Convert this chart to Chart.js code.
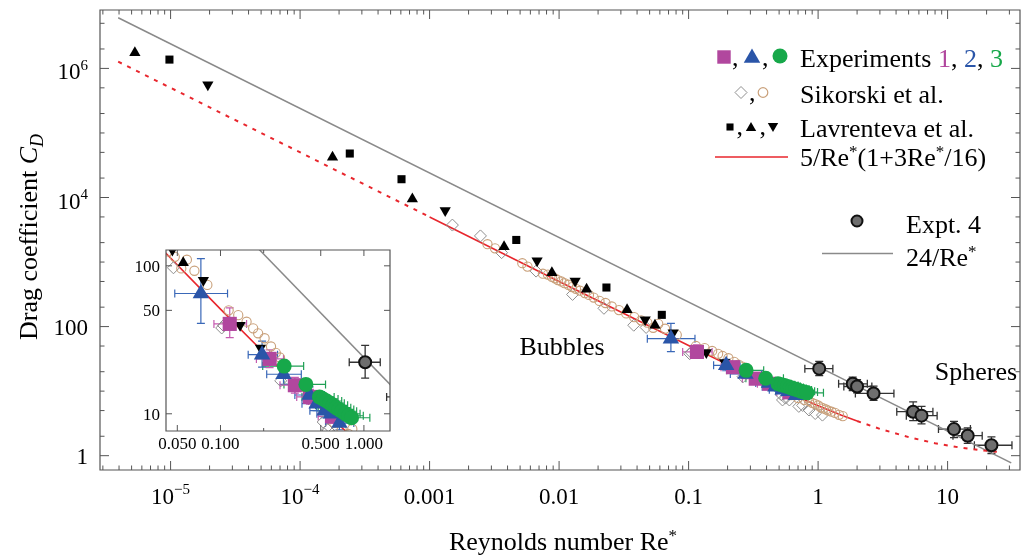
<!DOCTYPE html>
<html><head><meta charset="utf-8">
<script src="https://cdn.jsdelivr.net/npm/chart.js@4/dist/chart.umd.min.js"></script>
<style>
html,body{margin:0;padding:0;background:#fff;}
#wrap{position:relative;width:1030px;height:558px;overflow:hidden;}
#main{position:absolute;left:0;top:0;}
#inset{position:absolute;left:120px;top:240px;}
</style></head><body>
<div id="wrap"><canvas id="main" width="1030" height="558"></canvas><canvas id="inset" width="280" height="218"></canvas></div>
<script>
// ---------------- DATA ----------------
// theory curves
const line24Re = [3.94e-6, 31];
const line24Cd = [6.09e6, 0.774];
const redDash1Re = [3.94e-6, 0.001];
const redDash1Cd = [1.27e6, 5001];
const redSolidRe = [0.001, 0.01, 0.1, 0.2, 0.3, 0.5, 0.7, 1, 1.5, 2];
const redSolidCd = [5001, 500.9, 50.94, 25.94, 17.6, 10.94, 8.08, 5.94, 4.27, 3.44];
const redDash2Re = [2, 3, 5, 8, 12, 17, 24];
const redDash2Cd = [3.44, 2.60, 1.94, 1.56, 1.354, 1.232, 1.146];

// Sikorski et al.
const sikDiaRe = [0.0015, 0.00247, 0.0036, 0.00664, 0.0127, 0.0222, 0.0377, 0.047, 0.102, 0.105, 0.263, 0.52, 0.531, 0.56, 0.6, 0.71, 0.76, 0.85, 0.95, 1.08];
const sikDiaCd = [3740, 2540, 1400, 724, 315, 192, 105, 97, 38, 39.5, 16.7, 8.8, 7.3, 7.8, 7.3, 5.8, 6.0, 5.1, 4.5, 4.25];
const sikCirRe = [0.0028, 0.0032, 0.0052, 0.0057, 0.0075, 0.0082, 0.0088, 0.0093, 0.0098, 0.0104, 0.011, 0.0118, 0.0126, 0.0135, 0.0145, 0.0158, 0.017, 0.0185, 0.0205, 0.0228, 0.0255, 0.029, 0.033, 0.038, 0.043, 0.048, 0.0533, 0.0583, 0.0658, 0.081, 0.114, 0.133, 0.152, 0.169, 0.183, 0.203, 0.225, 0.243, 0.26, 0.62, 0.7, 0.78, 0.83, 0.85, 0.9, 0.95, 1.0, 1.05, 1.1, 1.15, 1.2, 1.27, 1.35, 1.45, 1.55];
const sikCirCd = [1890, 1630, 960, 850, 660, 640, 590, 560, 525, 500, 470, 445, 410, 385, 360, 330, 310, 282, 250, 232, 205, 180, 160, 140, 125, 115, 96, 110, 92.6, 74.3, 50, 46.4, 41.9, 37.8, 35, 32.4, 28.5, 25.8, 24, 8.7, 7.8, 7.3, 7.9, 7.0, 6.6, 6.3, 6.0, 5.6, 5.4, 5.2, 5.0, 4.8, 4.6, 4.3, 4.1];

// Lavrenteva et al.
const lavSqRe = [9.8e-6, 2.42e-4, 6.07e-4, 4.67e-3, 0.0232, 0.0621];
const lavSqCd = [1.37e6, 4.8e4, 1.92e4, 2200, 403, 152];
const lavUpRe = [5.3e-6, 1.78e-4, 7.36e-4, 3.76e-3, 8.8e-3, 0.0163, 0.0335, 0.055];
const lavUpCd = [1.75e6, 4.2e4, 9500, 1730, 683, 380, 182, 105];
const lavDnRe = [1.94e-5, 1.32e-3, 6.76e-3, 0.0133, 0.0462, 0.076, 0.137, 0.19];
const lavDnCd = [5.56e5, 6300, 1050, 509, 128, 80, 39.6, 27.8];

// Experiments 1 (squares)
const exp1Re = [0.116, 0.22, 0.33, 0.42, 0.6];
const exp1Cd = [40.5, 23.5, 15.6, 13.0, 9.6];
const exp1ReLo = [0.090, 0.178, 0.26, 0.34, 0.48];
const exp1ReHi = [0.152, 0.275, 0.42, 0.53, 0.75];
const exp1CdLo = [32.7, 20.5, 13.8, 11.6, 8.6];
const exp1CdHi = [52, 27, 17.6, 14.6, 10.7];
// Experiments 2 (triangles)
const exp2Re = [0.073, 0.195, 0.275, 0.418, 0.468, 0.533, 0.59, 0.675];
const exp2Cd = [65, 25.1, 18.5, 13.4, 11.7, 10.5, 10.0, 8.65];
const exp2ReLo = [0.048, 0.156, 0.21, 0.33, 0.37, 0.42, 0.47, 0.54];
const exp2ReHi = [0.112, 0.25, 0.366, 0.53, 0.59, 0.67, 0.74, 0.85];
const exp2CdLo = [40.8, 20.7, 15.8, 11.8, 10.5, 9.4, 9.0, 7.8];
const exp2CdHi = [112, 31, 21.5, 15.2, 13, 11.7, 11.1, 9.6];
// Experiments 3 (circles)
const exp3Re = [0.278, 0.394, 0.49, 0.52, 0.55, 0.58, 0.61, 0.64, 0.67, 0.70, 0.74, 0.78, 0.82];
const exp3Cd = [21.0, 15.8, 13.0, 12.6, 12.2, 11.8, 11.4, 11.0, 10.7, 10.4, 10.0, 9.7, 9.4];
const exp3ReLo = [0.197, 0.277, 0.37, 0.39, 0.41, 0.44, 0.46, 0.48, 0.50, 0.53, 0.56, 0.59, 0.62];
const exp3ReHi = [0.38, 0.54, 0.62, 0.66, 0.70, 0.73, 0.77, 0.81, 0.85, 0.89, 0.94, 0.99, 1.10];
// Expt. 4 (spheres)
const exp4Re = [1.02, 1.85, 2.0, 2.68, 5.42, 6.29, 11.2, 14.3, 21.8];
const exp4Cd = [22.3, 13.0, 11.8, 9.2, 4.8, 4.17, 2.58, 2.04, 1.45];
const exp4ReLo = [0.79, 1.44, 1.58, 1.94, 4.05, 4.8, 8.5, 11.0, 16.1];
const exp4ReHi = [1.30, 2.4, 2.6, 3.85, 7.7, 8.3, 15.0, 18.5, 31.4];
const exp4CdLo = [17.4, 10.2, 9.4, 7.2, 3.5, 3.1, 1.9, 1.55, 1.08];
const exp4CdHi = [29, 16.5, 15, 12, 6.8, 5.8, 3.4, 2.7, 1.95];

// tick labels
const xTickVals = [1e-5, 1e-4, 0.001, 0.01, 0.1, 1, 10];
const xTickText = ['10^\u22125', '10^\u22124', '0.001', '0.01', '0.1', '1', '10'];
const yTickVals = [1, 100, 1e4, 1e6];
const yTickText = ['1', '100', '10^4', '10^6'];
const inXTickVals = [0.05, 0.1, 0.5, 1];
const inXTickText = ['0.050', '0.100', '0.500', '1.000'];
const inYTickVals = [10, 50, 100];
const inYTickText = ['10', '50', '100'];

// ---------------- STYLE / HELPERS ----------------
const FONT = '"Liberation Serif", "DejaVu Serif", serif';
const C_MAG = '#b1479e', C_BLUE = '#2a55a8', C_GREEN = '#17a84a', C_TAN = '#c9a07a', C_DIA = '#8e8e8e', C_RED = '#e8262d', C_GRAY = '#8a8a8a';
const fnt = (s, it) => `${it ? 'italic ' : ''}${s}px ${FONT}`;

function segSize(s, size) { return (s.sup || s.sub) ? Math.round(size * (s.scale || 0.64)) : size; }
function richWidth(ctx, segs, size) {
  let w = 0;
  for (const s of segs) { ctx.font = fnt(segSize(s, size), s.it); w += ctx.measureText(s.t).width; }
  return w;
}
function drawRich(ctx, x, y, segs, size, align) {
  const w = richWidth(ctx, segs, size);
  let cx = align === 'center' ? x - w / 2 : align === 'right' ? x - w : x;
  ctx.textAlign = 'left'; ctx.textBaseline = 'alphabetic';
  for (const s of segs) {
    ctx.font = fnt(segSize(s, size), s.it);
    ctx.fillStyle = s.c || '#000';
    const dy = s.sup ? -size * (s.raise || 0.42) : s.sub ? size * 0.22 : 0;
    ctx.fillText(s.t, cx, y + dy);
    cx += ctx.measureText(s.t).width;
  }
  return w;
}
function parseLbl(str) {
  const p = str.split('^');
  return p.length > 1 ? [{ t: p[0] }, { t: p[1], sup: true }] : [{ t: p[0] }];
}
const P = (re, cd) => re.map((r, i) => ({ x: r, y: cd[i] }));

function minorDecades(lo, hi, mult) {
  const out = [];
  for (let k = lo; k <= hi; k++) for (const m of mult) out.push(m * Math.pow(10, k));
  return out;
}

// ---------------- PLUGINS ----------------
const framePlugin = {
  id: 'frame',
  afterDatasetsDraw(chart, args, o) {
    const { ctx, chartArea: a } = chart; const xs = chart.scales.x, ys = chart.scales.y;
    ctx.save();
    ctx.strokeStyle = o.color; ctx.lineWidth = o.lw;
    ctx.beginPath(); ctx.rect(a.left, a.top, a.right - a.left, a.bottom - a.top); ctx.stroke();
    ctx.lineWidth = o.tickLw;
    ctx.beginPath();
    const seg = (x1, y1, x2, y2) => { ctx.moveTo(x1, y1); ctx.lineTo(x2, y2); };
    for (const [vals, len] of [[o.xMajor, o.major], [o.xMinor, o.minor]]) for (const v of vals) {
      const p = xs.getPixelForValue(v); if (p < a.left + 1 || p > a.right - 1) continue;
      seg(p, a.bottom, p, a.bottom - len); seg(p, a.top, p, a.top + len);
    }
    for (const [vals, len] of [[o.yMajor, o.major], [o.yMinor, o.minor]]) for (const v of vals) {
      const p = ys.getPixelForValue(v); if (p < a.top + 1 || p > a.bottom - 1) continue;
      seg(a.left, p, a.left + len, p); seg(a.right, p, a.right - len, p);
    }
    ctx.stroke();
    o.xLabels.forEach((t, i) => drawRich(ctx, xs.getPixelForValue(o.xVals[i]), o.xLabelY, parseLbl(t), o.fontSize, 'center'));
    o.yLabels.forEach((t, i) => {
      const segs = parseLbl(t);
      drawRich(ctx, o.yLabelX, ys.getPixelForValue(o.yVals[i]) + o.yDy + (segs.length > 1 ? o.supDy : 0), segs, o.fontSize, 'right');
    });
    ctx.restore();
  }
};

const errPlugin = {
  id: 'errbars',
  beforeDatasetsDraw(chart) {
    const { ctx, chartArea: a } = chart; const xs = chart.scales.x, ys = chart.scales.y;
    ctx.save(); ctx.beginPath(); ctx.rect(a.left, a.top, a.right - a.left, a.bottom - a.top); ctx.clip();
    chart.data.datasets.forEach(ds => {
      const e = ds.err; if (!e) return;
      ctx.strokeStyle = e.color; ctx.lineWidth = e.lw;
      const cap = e.cap;
      ds.data.forEach((pt, i) => {
        const px = xs.getPixelForValue(pt.x), py = ys.getPixelForValue(pt.y);
        ctx.beginPath();
        if (e.xlo && e.xlo[i] != null) {
          const p1 = xs.getPixelForValue(e.xlo[i]), p2 = xs.getPixelForValue(e.xhi[i]);
          ctx.moveTo(p1, py); ctx.lineTo(p2, py);
          ctx.moveTo(p1, py - cap); ctx.lineTo(p1, py + cap);
          ctx.moveTo(p2, py - cap); ctx.lineTo(p2, py + cap);
        }
        if (e.ylo && e.ylo[i] != null) {
          const q1 = ys.getPixelForValue(e.ylo[i]), q2 = ys.getPixelForValue(e.yhi[i]);
          ctx.moveTo(px, q1); ctx.lineTo(px, q2);
          ctx.moveTo(px - cap, q1); ctx.lineTo(px + cap, q1);
          ctx.moveTo(px - cap, q2); ctx.lineTo(px + cap, q2);
        }
        ctx.stroke();
      });
    });
    ctx.restore();
  }
};

const whiteBg = {
  id: 'whiteBg',
  beforeDraw(chart) { const c = chart.ctx; c.save(); c.fillStyle = '#fff'; c.fillRect(0, 0, chart.width, chart.height); c.restore(); }
};

function mark(ctx, style, r, rot, x, y, fill, stroke, bw) {
  ctx.save();
  ctx.fillStyle = fill; ctx.strokeStyle = stroke; ctx.lineWidth = bw;
  Chart.helpers.drawPoint(ctx, { pointStyle: style, radius: r, rotation: rot, borderWidth: bw }, x, y);
  ctx.restore();
}

const annoPlugin = {
  id: 'anno',
  afterDraw(chart) {
    const ctx = chart.ctx; const F = 26;
    ctx.save();
    // legend row 1
    mark(ctx, 'rect', 9.5, 0, 724, 57, C_MAG, C_MAG, 0);
    drawRich(ctx, 732, 66, [{ t: ',' }], F, 'left');
    mark(ctx, 'triangle', 9.5, 0, 752, 58, C_BLUE, C_BLUE, 0);
    drawRich(ctx, 762, 66, [{ t: ',' }], F, 'left');
    mark(ctx, 'circle', 7.5, 0, 780, 56, C_GREEN, C_GREEN, 0);
    drawRich(ctx, 800, 66.5, [{ t: 'Experiments ' }, { t: '1', c: C_MAG }, { t: ', ' }, { t: '2', c: C_BLUE }, { t: ', ' }, { t: '3', c: C_GREEN }], F, 'left');
    // row 2
    mark(ctx, 'rectRot', 6, 0, 741, 92.5, 'rgba(0,0,0,0)', C_DIA, 1);
    drawRich(ctx, 749, 101, [{ t: ',' }], F, 'left');
    mark(ctx, 'circle', 4.8, 0, 763, 92.5, 'rgba(0,0,0,0)', C_TAN, 1.2);
    drawRich(ctx, 800, 103, [{ t: 'Sikorski et al.' }], F, 'left');
    // row 3
    mark(ctx, 'rect', 5, 0, 730, 127, '#000', '#000', 0);
    drawRich(ctx, 736.5, 135, [{ t: ',' }], F, 'left');
    mark(ctx, 'triangle', 6, 0, 751, 128, '#000', '#000', 0);
    drawRich(ctx, 759.5, 135, [{ t: ',' }], F, 'left');
    mark(ctx, 'triangle', 6, 180, 773, 126, '#000', '#000', 0);
    drawRich(ctx, 800, 136.5, [{ t: 'Lavrenteva et al.' }], F, 'left');
    // row 4
    ctx.strokeStyle = C_RED; ctx.lineWidth = 1.6;
    ctx.beginPath(); ctx.moveTo(715, 157); ctx.lineTo(788, 157); ctx.stroke();
    drawRich(ctx, 800, 166, [{ t: '5/Re' }, { t: '*', sup: true, raise: 0.36 }, { t: '(1+3Re' }, { t: '*', sup: true, raise: 0.36 }, { t: '/16)' }], F, 'left');
    // Expt 4 legend
    mark(ctx, 'circle', 5.5, 0, 857, 221, '#6e6e6e', '#111', 2);
    drawRich(ctx, 906, 232.5, [{ t: 'Expt. 4' }], F, 'left');
    ctx.strokeStyle = C_GRAY; ctx.lineWidth = 1.6;
    ctx.beginPath(); ctx.moveTo(822, 253.5); ctx.lineTo(893, 253.5); ctx.stroke();
    drawRich(ctx, 906, 266, [{ t: '24/Re' }, { t: '*', sup: true, raise: 0.36 }], F, 'left');
    // annotations
    drawRich(ctx, 562, 355, [{ t: 'Bubbles' }], F, 'center');
    drawRich(ctx, 976, 380, [{ t: 'Spheres' }], F, 'center');
    // axis titles
    drawRich(ctx, 563, 550, [{ t: 'Reynolds number Re' }, { t: '*', sup: true, raise: 0.36 }], F, 'center');
    ctx.translate(37, 237); ctx.rotate(-Math.PI / 2);
    drawRich(ctx, 0, 0, [{ t: 'Drag coefficient ' }, { t: 'C', it: true }, { t: 'D', it: true, sub: true, scale: 0.7 }], F, 'center');
    ctx.restore();
  }
};

// ---------------- DATASETS ----------------
function buildDatasets() {
  const open = 'rgba(0,0,0,0)';
  return [
    { label: 'Expt. 4', data: P(exp4Re, exp4Cd), pointStyle: 'circle', pointRadius: 6, pointBackgroundColor: '#6e6e6e', pointBorderColor: '#111', pointBorderWidth: 2, order: 1,
      err: { xlo: exp4ReLo, xhi: exp4ReHi, ylo: exp4CdLo, yhi: exp4CdHi, color: '#333', lw: 1.3, cap: 4 } },
    { label: 'Experiments 3', data: P(exp3Re, exp3Cd), pointStyle: 'circle', pointRadius: 7.5, pointBackgroundColor: C_GREEN, pointBorderColor: C_GREEN, pointBorderWidth: 0, order: 2,
      err: { xlo: exp3ReLo, xhi: exp3ReHi, color: '#20a055', lw: 1.2, cap: 4 } },
    { label: 'Experiments 2', data: P(exp2Re, exp2Cd), pointStyle: 'triangle', pointRadius: 9.5, pointBackgroundColor: C_BLUE, pointBorderColor: C_BLUE, pointBorderWidth: 0, order: 3,
      err: { xlo: exp2ReLo, xhi: exp2ReHi, ylo: exp2CdLo, yhi: exp2CdHi, color: '#3a68b8', lw: 1.2, cap: 4 } },
    { label: 'Experiments 1', data: P(exp1Re, exp1Cd), pointStyle: 'rect', pointRadius: 10, pointBackgroundColor: C_MAG, pointBorderColor: C_MAG, pointBorderWidth: 0, order: 4,
      err: { xlo: exp1ReLo, xhi: exp1ReHi, ylo: exp1CdLo, yhi: exp1CdHi, color: '#c55cb0', lw: 1.2, cap: 4 } },
    { label: 'Lavrenteva down', data: P(lavDnRe, lavDnCd), pointStyle: 'triangle', pointRotation: 180, pointRadius: 6.5, pointBackgroundColor: '#000', pointBorderColor: '#000', pointBorderWidth: 0, order: 5 },
    { label: 'Lavrenteva up', data: P(lavUpRe, lavUpCd), pointStyle: 'triangle', pointRadius: 6.5, pointBackgroundColor: '#000', pointBorderColor: '#000', pointBorderWidth: 0, order: 6 },
    { label: 'Lavrenteva sq', data: P(lavSqRe, lavSqCd), pointStyle: 'rect', pointRadius: 5.7, pointBackgroundColor: '#000', pointBorderColor: '#000', pointBorderWidth: 0, order: 7 },
    { label: 'Sikorski circles', data: P(sikCirRe, sikCirCd), pointStyle: 'circle', pointRadius: 4.6, pointBackgroundColor: open, pointBorderColor: C_TAN, pointBorderWidth: 1.1, order: 8 },
    { label: 'Sikorski diamonds', data: P(sikDiaRe, sikDiaCd), pointStyle: 'rectRot', pointRadius: 6, pointBackgroundColor: open, pointBorderColor: C_DIA, pointBorderWidth: 1, order: 9 },
    { label: 'red solid', data: P(redSolidRe, redSolidCd), showLine: true, borderColor: C_RED, borderWidth: 1.6, pointRadius: 0, order: 10 },
    { label: 'red dash 1', data: P(redDash1Re, redDash1Cd), showLine: true, borderColor: C_RED, borderWidth: 2, borderDash: [4, 6], pointRadius: 0, order: 11 },
    { label: 'red dash 2', data: P(redDash2Re, redDash2Cd), showLine: true, borderColor: C_RED, borderWidth: 2, borderDash: [4, 6], pointRadius: 0, order: 12 },
    { label: '24/Re*', data: P(line24Re, line24Cd), showLine: true, borderColor: C_GRAY, borderWidth: 1.5, pointRadius: 0, order: 13 }
  ];
}

function logScale(min, max, fitKey, fitVal) {
  return { type: 'logarithmic', min, max, grid: { display: false }, border: { display: false }, ticks: { display: false },
    afterFit(s) { s[fitKey] = fitVal; } };
}

// ---------------- MAIN CHART ----------------
new Chart(document.getElementById('main'), {
  type: 'scatter',
  data: { datasets: buildDatasets() },
  options: {
    responsive: false, animation: false, devicePixelRatio: 1,
    layout: { padding: { top: 4, right: 4, left: 0, bottom: 0 } },
    plugins: {
      legend: { display: false }, tooltip: { enabled: false },
      frame: { color: '#555', lw: 1.2, tickLw: 1, major: 9, minor: 4.5,
        xMajor: xTickVals, xMinor: minorDecades(-6, 1, [2, 3, 4, 5, 6, 7, 8, 9]),
        yMajor: yTickVals, yMinor: minorDecades(-1, 7, [2, 5]).concat([10, 1000, 1e5, 1e7]),
        xVals: xTickVals, xLabels: xTickText, xLabelY: 504,
        yVals: yTickVals, yLabels: yTickText, yLabelX: 88, yDy: 8, supDy: 3, fontSize: 23 }
    },
    scales: {
      x: logScale(Math.pow(10, -5.545), Math.pow(10, 1.559), 'height', 88),
      y: logScale(Math.pow(10, -0.209), Math.pow(10, 6.905), 'width', 100)
    }
  },
  plugins: [errPlugin, framePlugin, annoPlugin]
});

// ---------------- INSET CHART ----------------
new Chart(document.getElementById('inset'), {
  type: 'scatter',
  data: { datasets: buildDatasets() },
  options: {
    responsive: false, animation: false, devicePixelRatio: 1,
    layout: { padding: { top: 7, right: 5, left: 0, bottom: 0 } },
    plugins: {
      legend: { display: false }, tooltip: { enabled: false },
      frame: { color: '#555', lw: 1.2, tickLw: 1, major: 6, minor: 3,
        xMajor: inXTickVals, xMinor: [0.2],
        yMajor: inYTickVals, yMinor: [],
        xVals: inXTickVals, xLabels: inXTickText, xLabelY: 209,
        yVals: inYTickVals, yLabels: inYTickText, yLabelX: 40, yDy: 6, supDy: 0, fontSize: 17 }
    },
    scales: {
      x: logScale(0.0417, 1.52, 'height', 27),
      y: logScale(7.65, 127.9, 'width', 46)
    }
  },
  plugins: [whiteBg, errPlugin, framePlugin]
});
</script>
</body></html>
